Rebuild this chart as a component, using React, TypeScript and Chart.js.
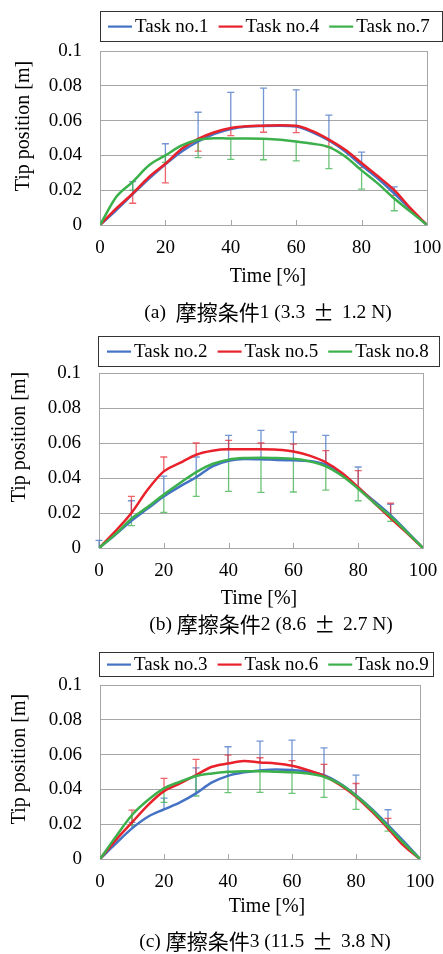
import { useEffect, useRef } from "react";
import { Chart, registerables } from "chart.js";

Chart.register(...registerables);

// ---------- data ----------
const TIME = [0, 5, 10, 15, 20, 25, 30, 35, 40, 45, 50, 55, 60, 65, 70, 75, 80, 85, 90, 95, 100];
const ERR_TIME = [0, 10, 20, 30, 40, 50, 60, 70, 80, 90, 100];
const X_TICK_STEP = 20;
const Y_TICK_STEP = 0.02;

// Panel (a)
const task1 = [0, 0.0086, 0.0177, 0.0267, 0.0349, 0.0423, 0.048, 0.0524, 0.0552, 0.0566, 0.0569, 0.057, 0.0566, 0.0533, 0.0486, 0.0423, 0.0343, 0.0267, 0.0181, 0.009, 0];
const task4 = [0, 0.0095, 0.0181, 0.0276, 0.0352, 0.0438, 0.0495, 0.0533, 0.0558, 0.0568, 0.0571, 0.0573, 0.057, 0.0539, 0.0491, 0.0432, 0.0356, 0.028, 0.02, 0.0095, 0];
const task7 = [0, 0.0162, 0.0248, 0.0343, 0.04, 0.0457, 0.049, 0.0499, 0.0497, 0.0497, 0.0495, 0.049, 0.048, 0.0467, 0.0448, 0.0394, 0.0314, 0.0238, 0.0152, 0.0076, 0];
const task1Err = [null, 0.0249, 0.0467, 0.0648, 0.0762, 0.0787, 0.0777, 0.0632, 0.0419, 0.0219, null];
const task4Err = [null, 0.0125, 0.0242, 0.0425, 0.0514, 0.0533, 0.0531, 0.0448, 0.033, 0.017, null];
const task7Err = [null, 0.02, 0.036, 0.0387, 0.0377, 0.0375, 0.0368, 0.0324, 0.0206, 0.0082, null];

// Panel (b)
const task2 = [0, 0.0076, 0.0156, 0.0225, 0.0295, 0.0352, 0.0404, 0.0467, 0.0499, 0.0509, 0.0507, 0.0503, 0.0501, 0.0497, 0.0476, 0.0419, 0.0343, 0.0267, 0.0187, 0.0095, 0];
const task5 = [0, 0.0095, 0.02, 0.0333, 0.0438, 0.0486, 0.0533, 0.0556, 0.0564, 0.0564, 0.0564, 0.0562, 0.0552, 0.0528, 0.049, 0.0429, 0.0347, 0.0257, 0.0171, 0.0086, 0];
const task8 = [0, 0.0078, 0.0168, 0.0234, 0.0305, 0.0371, 0.0434, 0.048, 0.0505, 0.0514, 0.0516, 0.0514, 0.051, 0.0495, 0.0467, 0.0413, 0.0339, 0.0257, 0.0181, 0.0091, 0];
const task2Err = [0.0044, 0.027, 0.0411, 0.052, 0.0644, 0.0672, 0.0663, 0.0644, 0.0463, 0.025, null];
const task5Err = [null, 0.0295, 0.052, 0.06, 0.0615, 0.06, 0.0594, 0.0556, 0.0442, 0.0257, null];
const task8Err = [null, 0.0128, 0.0204, 0.0295, 0.0324, 0.0318, 0.032, 0.0331, 0.027, 0.0152, null];

// Panel (c)
const task3 = [0, 0.009, 0.0176, 0.0243, 0.0285, 0.0325, 0.0377, 0.044, 0.0478, 0.0498, 0.0509, 0.0515, 0.0511, 0.0501, 0.0482, 0.0434, 0.0367, 0.0287, 0.0195, 0.01, 0];
const task6 = [0, 0.011, 0.021, 0.031, 0.039, 0.0434, 0.0482, 0.053, 0.0549, 0.0563, 0.0555, 0.0549, 0.0536, 0.0511, 0.0478, 0.0425, 0.0358, 0.0272, 0.0176, 0.0075, 0];
const task9 = [0, 0.013, 0.0253, 0.0339, 0.0406, 0.0444, 0.0477, 0.0492, 0.0501, 0.0505, 0.0505, 0.0501, 0.0498, 0.0492, 0.0473, 0.0431, 0.0364, 0.0281, 0.0186, 0.009, 0];
const task3Err = [null, 0.021, 0.035, 0.0524, 0.0645, 0.0678, 0.0683, 0.0639, 0.0482, 0.0283, null];
const task6Err = [null, 0.0281, 0.0463, 0.0572, 0.0597, 0.0582, 0.0565, 0.0544, 0.0434, 0.0233, null];
const task9Err = [null, 0.0195, 0.0325, 0.0362, 0.0381, 0.0383, 0.0377, 0.0354, 0.0285, 0.016, null];

const LABELS_A = ["Task no.1", "Task no.4", "Task no.7"];
const LABELS_B = ["Task no.2", "Task no.5", "Task no.8"];
const LABELS_C = ["Task no.3", "Task no.6", "Task no.9"];

const X_TITLE = "Time [%]";
const Y_TITLE = "Tip position [m]";
const CAPTION_A = "(a)  摩擦条件1 (3.3 ± 1.2 N)";
const CAPTION_B = "(b) 摩擦条件2 (8.6 ± 2.7 N)";
const CAPTION_C = "(c) 摩擦条件3 (11.5 ± 3.8 N)";

// ---------- styles ----------
const COLORS = ["#4472C4", "#E8212B", "#3BB04B"];
const ERR_COLORS = ["rgba(68,114,196,0.75)", "rgba(232,33,43,0.7)", "rgba(59,176,75,0.75)"];
const GRID = "#a6a6a6";
const FONT = "'Liberation Serif', 'Times New Roman', 'Noto Sans CJK JP', serif";
const CJK_FONT = "'Noto Sans CJK JP', 'Noto Sans CJK SC', sans-serif";

type PanelDef = {
  top: number;
  height: number;
  padding: { top: number; right: number; bottom: number; left: number };
  yAxisWidth: number;
  legend: { x: number; y: number; w: number; h: number; start: number };
  yTitle: { x: number; y: number };
  xTitle: { x: number; y: number };
  caption: { x: number; y: number; text: string };
  labels: string[];
  series: number[][];
  errors: (number | null)[][];
};

const PANELS: PanelDef[] = [
  {
    top: 0,
    height: 325,
    padding: { top: 51, right: 16, bottom: 60, left: 0 },
    yAxisWidth: 100,
    legend: { x: 100, y: 11, w: 342, h: 30, start: 108 },
    yTitle: { x: 24, y: 126 },
    xTitle: { x: 268, y: 277 },
    caption: { x: 268, y: 313, text: CAPTION_A },
    labels: LABELS_A,
    series: [task1, task4, task7],
    errors: [task1Err, task4Err, task7Err],
  },
  {
    top: 325,
    height: 315,
    padding: { top: 48, right: 20, bottom: 52, left: 0 },
    yAxisWidth: 99,
    legend: { x: 98, y: 11, w: 341, h: 30, start: 107 },
    yTitle: { x: 20, y: 112 },
    xTitle: { x: 259, y: 274 },
    caption: { x: 271, y: 300, text: CAPTION_B },
    labels: LABELS_B,
    series: [task2, task5, task8],
    errors: [task2Err, task5Err, task8Err],
  },
  {
    top: 640,
    height: 314,
    padding: { top: 45, right: 23, bottom: 55, left: 0 },
    yAxisWidth: 100,
    legend: { x: 99, y: 12, w: 334, h: 24, start: 107 },
    yTitle: { x: 20, y: 119 },
    xTitle: { x: 267, y: 267 },
    caption: { x: 265, y: 302, text: CAPTION_C },
    labels: LABELS_C,
    series: [task3, task6, task9],
    errors: [task3Err, task6Err, task9Err],
  },
];

// draw mixed-script caption: CJK glyphs (and ±) in a CJK font, the rest in serif
function drawCaption(ctx: CanvasRenderingContext2D, text: string, cx: number, cy: number) {
  const runs: { s: string; cjk: boolean }[] = [];
  for (const ch of Array.from(text)) {
    const cjk = /[\u3000-\u9fff\u00b1]/.test(ch);
    const last = runs[runs.length - 1];
    if (last && last.cjk === cjk) last.s += ch;
    else runs.push({ s: ch, cjk });
  }
  const fontOf = (cjk: boolean) => (cjk ? `21px ${CJK_FONT}` : `19.5px ${FONT}`);
  let total = 0;
  const widths = runs.map((r) => {
    ctx.font = fontOf(r.cjk);
    const w = ctx.measureText(r.s).width + (r.s === "±" ? 6 : 0);
    total += w;
    return w;
  });
  let x = cx - total / 2;
  ctx.textAlign = "left";
  ctx.textBaseline = "middle";
  runs.forEach((r, i) => {
    ctx.font = fontOf(r.cjk);
    ctx.fillText(r.s, x + (r.s === "±" ? 3 : 0), cy + (r.cjk ? -1 : 0));
    x += widths[i];
  });
}

function Panel({ def }: { def: PanelDef }) {
  const ref = useRef<HTMLCanvasElement | null>(null);

  useEffect(() => {
    if (!ref.current) return;

    const decor = {
      id: "decor",
      beforeDatasetsDraw(chart: any) {
        const { ctx, chartArea: a } = chart;
        const xs = chart.scales.x;
        const ys = chart.scales.y;
        ctx.save();
        // plot border
        ctx.strokeStyle = GRID;
        ctx.lineWidth = 1;
        ctx.strokeRect(Math.round(a.left) + 0.5, Math.round(a.top) + 0.5, Math.round(a.right - a.left), Math.round(a.bottom - a.top));
        // inner x tick marks
        for (let t = 0; t <= 100; t += X_TICK_STEP) {
          const px = Math.round(xs.getPixelForValue(t)) + 0.5;
          ctx.beginPath();
          ctx.moveTo(px, a.bottom);
          ctx.lineTo(px, a.bottom - 5);
          ctx.stroke();
        }
        // error bars
        def.errors.forEach((errs, si) => {
          ctx.strokeStyle = ERR_COLORS[si];
          ctx.lineWidth = 1.3;
          errs.forEach((end, i) => {
            if (end === null) return;
            const t = ERR_TIME[i];
            const mean = def.series[si][TIME.indexOf(t)];
            const px = xs.getPixelForValue(t);
            const p0 = ys.getPixelForValue(mean);
            const p1 = ys.getPixelForValue(end);
            ctx.beginPath();
            ctx.moveTo(px, p0);
            ctx.lineTo(px, p1);
            ctx.moveTo(px - 3.5, p1);
            ctx.lineTo(px + 3.5, p1);
            ctx.stroke();
          });
        });
        ctx.restore();
      },
      afterDraw(chart: any) {
        const { ctx } = chart;
        ctx.save();
        // legend
        const L = def.legend;
        ctx.strokeStyle = "#333";
        ctx.lineWidth = 1;
        ctx.strokeRect(L.x + 0.5, L.y + 0.5, L.w, L.h);
        ctx.font = `19px ${FONT}`;
        ctx.textBaseline = "middle";
        ctx.textAlign = "left";
        const cy = L.y + L.h / 2 + 0.5;
        let x = L.start;
        def.labels.forEach((lab, i) => {
          ctx.fillStyle = COLORS[i];
          ctx.fillRect(x, cy - 1, 24, 2.2);
          ctx.fillStyle = "#000";
          ctx.fillText(lab, x + 27, cy + 1);
          x += 27 + ctx.measureText(lab).width + 10;
        });
        // axis titles
        ctx.font = `20px ${FONT}`;
        ctx.textAlign = "center";
        ctx.fillText(X_TITLE, def.xTitle.x, def.xTitle.y);
        ctx.save();
        ctx.translate(def.yTitle.x, def.yTitle.y);
        ctx.rotate(-Math.PI / 2);
        ctx.fillText(Y_TITLE, 0, 0);
        ctx.restore();
        // caption
        drawCaption(ctx, def.caption.text, def.caption.x, def.caption.y);
        ctx.restore();
      },
    };

    const chart = new Chart(ref.current, {
      type: "line",
      data: {
        datasets: def.series.map((s, i) => ({
          label: def.labels[i],
          data: s.map((v, k) => ({ x: TIME[k], y: v })),
          borderColor: COLORS[i],
          backgroundColor: COLORS[i],
          borderWidth: 2.5,
          pointRadius: 0,
          cubicInterpolationMode: "monotone" as const,
          order: 3 - i,
        })),
      },
      options: {
        animation: false,
        responsive: false,
        devicePixelRatio: 1,
        layout: { padding: def.padding },
        plugins: { legend: { display: false }, tooltip: { enabled: false }, title: { display: false } },
        scales: {
          x: {
            type: "linear",
            min: 0,
            max: 100,
            ticks: { stepSize: X_TICK_STEP, padding: 0, color: "#000", font: { family: FONT, size: 19 }, maxRotation: 0 },
            grid: { display: false, drawTicks: true, tickLength: 12, tickColor: "rgba(0,0,0,0)" },
            border: { display: false },
            afterFit: (s: any) => { s.height = 40; },
          },
          y: {
            type: "linear",
            min: 0,
            max: 0.1,
            ticks: {
              stepSize: Y_TICK_STEP,
              padding: 0,
              color: "#000",
              font: { family: FONT, size: 19 },
              callback: (v: any) => Number(Number(v).toFixed(2)).toString(),
            },
            grid: { color: GRID, lineWidth: 1, drawTicks: true, tickLength: 18, tickColor: "rgba(0,0,0,0)" },
            border: { display: false },
            afterFit: (s: any) => { s.width = def.yAxisWidth; },
          },
        },
      },
      plugins: [decor],
    } as any);

    return () => chart.destroy();
  }, [def]);

  return (
    <canvas
      ref={ref}
      width={443}
      height={def.height}
      style={{ position: "absolute", left: 0, top: def.top, width: 443, height: def.height }}
    />
  );
}

export default function App() {
  return (
    <div style={{ position: "absolute", left: 0, top: 0, width: 443, height: 954, background: "#fff" }}>
      {PANELS.map((p, i) => (
        <Panel key={i} def={p} />
      ))}
    </div>
  );
}
